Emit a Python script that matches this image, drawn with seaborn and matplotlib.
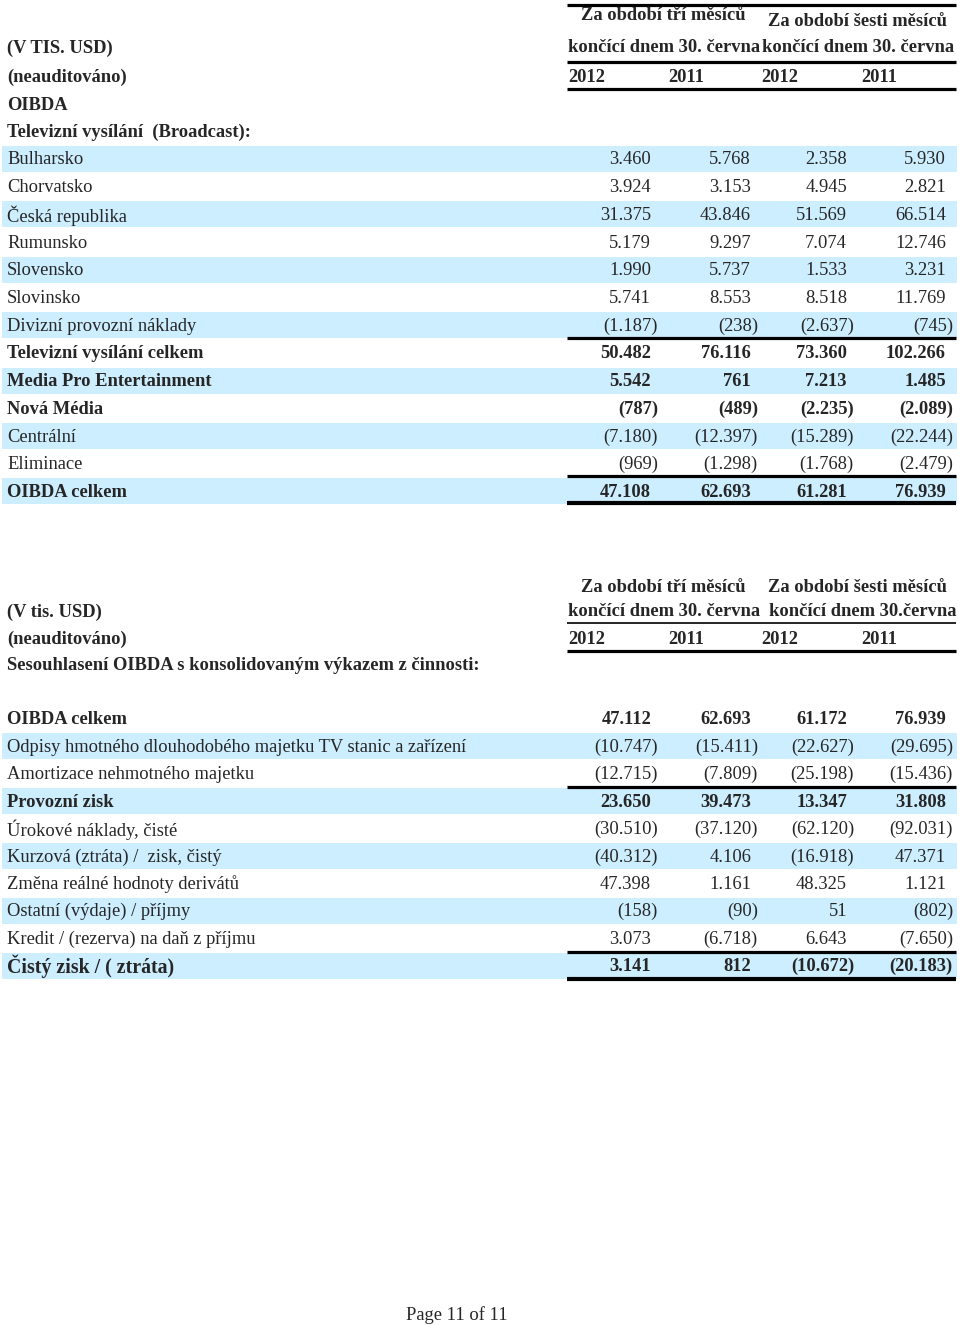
import matplotlib
matplotlib.use("Agg")
import matplotlib.pyplot as plt
import seaborn as sns

# ---- table 1: OIBDA by segment (tis. USD) ----
t1_labels = ["Bulharsko", "Chorvatsko", "Česká republika", "Rumunsko", "Slovensko",
             "Slovinsko", "Divizní provozní náklady", "Televizní vysílání celkem",
             "Media Pro Entertainment", "Nová Média", "Centrální", "Eliminace",
             "OIBDA celkem"]
t1_bold = [False, False, False, False, False, False, False, True, True, True,
           False, False, True]
t1_q_2012 = [3460, 3924, 31375, 5179, 1990, 5741, -1187, 50482, 5542, -787, -7180, -969, 47108]
t1_q_2011 = [5768, 3153, 43846, 9297, 5737, 8553, -238, 76116, 761, -489, -12397, -1298, 62693]
t1_h_2012 = [2358, 4945, 51569, 7074, 1533, 8518, -2637, 73360, 7213, -2235, -15289, -1768, 61281]
t1_h_2011 = [5930, 2821, 66514, 12746, 3231, 11769, -745, 102266, 1485, -2089, -22244, -2479, 76939]

# ---- table 2: reconciliation ----
t2_labels = ["OIBDA celkem",
             "Odpisy hmotného dlouhodobého majetku TV stanic a zařízení",
             "Amortizace nehmotného majetku", "Provozní zisk",
             "Úrokové náklady, čisté", "Kurzová (ztráta) /  zisk, čistý",
             "Změna reálné hodnoty derivátů", "Ostatní (výdaje) / příjmy",
             "Kredit / (rezerva) na daň z příjmu", "Čistý zisk / ( ztráta)"]
t2_bold = [True, False, False, True, False, False, False, False, False, True]
t2_q_2012 = [47112, -10747, -12715, 23650, -30510, -40312, 47398, -158, 3073, 3141]
t2_q_2011 = [62693, -15411, -7809, 39473, -37120, 4106, 1161, -90, -6718, 812]
t2_h_2012 = [61172, -22627, -25198, 13347, -62120, -16918, 48325, 51, 6643, -10672]
t2_h_2011 = [76939, -29695, -15436, 31808, -92031, 47371, 1121, -802, -7650, -20183]

years = ["2012", "2011", "2012", "2011"]

sns.set_theme(style="white")
plt.rcParams['font.family'] = ['Liberation Serif', 'DejaVu Serif']

BAND = "#CCEEFF"
FS = 13.3
col_edge = [651, 751, 847, 946]   # right edge of digits
year_x = [587, 686, 780, 879]
L0, L1 = 567, 956                 # extent of the number block


def fmt(v):
    s = f"{abs(v):,}".replace(",", ".")
    return f"({s})" if v < 0 else s


fig = plt.figure(figsize=(9.6, 13.25), dpi=100)
ax = fig.add_axes([0, 0, 1, 1])
ax.set_xlim(0, 960)
ax.set_ylim(1325, 0)
ax.axis("off")


def rule(y, lw=2.3):
    ax.hlines(y, L0, L1, color="black", lw=lw)


def body(y0, labels, bold, cols, step, first_shaded):
    for i, lab in enumerate(labels):
        y = y0 + i * step
        if (i % 2 == 0) == first_shaded:
            ax.axhspan(y - 13, y + 13, xmin=2 / 960, xmax=957 / 960,
                       color=BAND, lw=0, zorder=0)
        w = "bold" if bold[i] else "normal"
        fs = FS + 1 if lab.startswith("Čistý") else FS
        ax.text(7, y + 1, lab, fontsize=fs, fontweight=w, va="center", ha="left")
        for j, c in enumerate(cols):
            v = c[i]
            x = col_edge[j] + (7 if v < 0 else 0)
            ax.text(x, y + 1, fmt(v), fontsize=FS, fontweight=w, va="center", ha="right")


# ---------------- table 1 header ----------------
rule(5)
ax.text(663, 16, "Za období tří měsíců", fontsize=FS, fontweight="bold", ha="center", va="center")
ax.text(858, 22, "Za období šesti měsíců", fontsize=FS, fontweight="bold", ha="center", va="center")
ax.text(7, 48, "(V TIS. USD)", fontsize=FS, fontweight="bold", va="center")
ax.text(568, 48, "končící dnem 30. června", fontsize=FS, fontweight="bold", va="center")
ax.text(762, 48, "končící dnem 30. června", fontsize=FS, fontweight="bold", va="center")
rule(62)
ax.text(7, 77, "(neauditováno)", fontsize=FS, fontweight="bold", va="center")
for x, yr in zip(year_x, years):
    ax.text(x, 77, yr, fontsize=FS, fontweight="bold", ha="center", va="center")
rule(89)
ax.text(7, 105, "OIBDA", fontsize=FS, fontweight="bold", va="center")
ax.text(7, 132, "Televizní vysílání  (Broadcast):", fontsize=FS, fontweight="bold", va="center")

body(159, t1_labels, t1_bold, [t1_q_2012, t1_q_2011, t1_h_2012, t1_h_2011], 27.7, True)
rule(338)
rule(476)
rule(503, lw=3)

# ---------------- table 2 header ----------------
ax.text(663, 587, "Za období tří měsíců", fontsize=FS, fontweight="bold", ha="center", va="center")
ax.text(858, 587, "Za období šesti měsíců", fontsize=FS, fontweight="bold", ha="center", va="center")
ax.text(7, 612, "(V tis. USD)", fontsize=FS, fontweight="bold", va="center")
ax.text(568, 612, "končící dnem 30. června", fontsize=FS, fontweight="bold", va="center")
ax.text(769, 612, "končící dnem 30.června", fontsize=FS, fontweight="bold", va="center")
rule(623, lw=1.2)
ax.text(7, 639, "(neauditováno)", fontsize=FS, fontweight="bold", va="center")
for x, yr in zip(year_x, years):
    ax.text(x, 639, yr, fontsize=FS, fontweight="bold", ha="center", va="center")
rule(651)
ax.text(7, 666, "Sesouhlasení OIBDA s konsolidovaným výkazem z činnosti:", fontsize=FS,
        fontweight="bold", va="center")

body(719, t2_labels, t2_bold, [t2_q_2012, t2_q_2011, t2_h_2012, t2_h_2011], 27.4, False)
rule(787)
rule(952)
rule(979, lw=3)

ax.text(457, 1315, "Page 11 of 11", fontsize=FS, ha="center", va="center")

plt.savefig("out.png", dpi=100)
